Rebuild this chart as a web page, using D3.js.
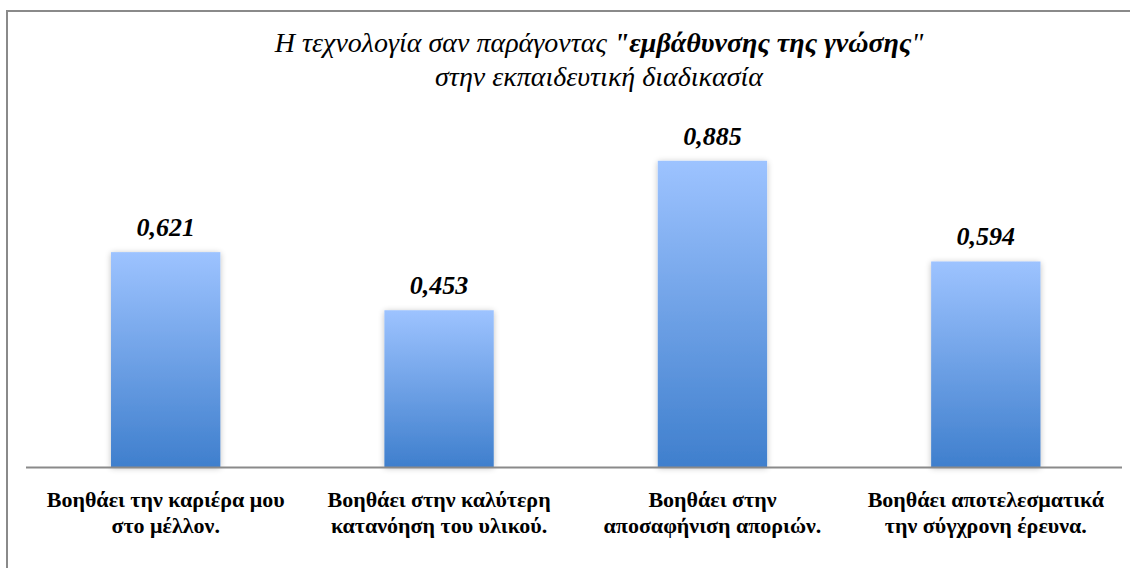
<!DOCTYPE html>
<html><head><meta charset="utf-8">
<script src="https://cdn.jsdelivr.net/npm/d3@7"></script>
</head><body style="margin:0">
<script>
const categories = [
  ["Βοηθάει την καριέρα μου", "στο μέλλον."],
  ["Βοηθάει στην καλύτερη", "κατανόηση του υλικού."],
  ["Βοηθάει στην", "αποσαφήνιση αποριών."],
  ["Βοηθάει αποτελεσματικά", "την σύγχρονη έρευνα."]
];
const values = [0.621, 0.453, 0.885, 0.594];
const valueLabels = ["0,621", "0,453", "0,885", "0,594"];
const titleLine1 = ["Η τεχνολογία σαν παράγοντας ", "\"εμβάθυνσης της γνώσης", "\""];
const titleLine2 = "στην εκπαιδευτική διαδικασία";

const W = 1130, H = 568;
const svg = d3.select("body").append("svg").attr("width", W).attr("height", H).style("display","block");
const serif = '"Liberation Serif", "Times New Roman", Tinos, serif';

const defs = svg.append("defs");
const grad = defs.append("linearGradient").attr("id","barGrad").attr("x1",0).attr("y1",0).attr("x2",0).attr("y2",1);
grad.append("stop").attr("offset","0%").attr("stop-color","#9dc3ff");
grad.append("stop").attr("offset","100%").attr("stop-color","#3f7fcd");
const filt = defs.append("filter").attr("id","shadow").attr("x","-20%").attr("y","-20%").attr("width","140%").attr("height","140%");
filt.append("feGaussianBlur").attr("in","SourceAlpha").attr("stdDeviation",3).attr("result","b");
filt.append("feOffset").attr("in","b").attr("dx",0).attr("dy",1).attr("result","o");
filt.append("feComponentTransfer").attr("in","o").attr("result","s").append("feFuncA").attr("type","linear").attr("slope",0.25);
const m = filt.append("feMerge"); m.append("feMergeNode").attr("in","s"); m.append("feMergeNode").attr("in","SourceGraphic");

// border
svg.append("path").attr("d", `M7,${H} L7,11 L${W},11`).attr("fill","none").attr("stroke","#8a8a8a").attr("stroke-width",2);

const x = d3.scaleBand().domain(d3.range(values.length)).range([29, 1122.5]).padding(0);
const y = d3.scaleLinear().domain([0, 1]).range([467, 121]);
const barW = x.bandwidth() * 0.4;

svg.append("g").selectAll("rect").data(values).join("rect")
  .attr("x", (d,i) => x(i) + (x.bandwidth() - barW)/2)
  .attr("y", d => y(d))
  .attr("width", barW)
  .attr("height", d => y(0) - y(d))
  .attr("fill", "url(#barGrad)")
  .attr("filter", "url(#shadow)");

// axis
const axis = svg.append("g").attr("transform", `translate(0,${y(0)+0.5})`)
  .call(d3.axisBottom(x).tickSize(0).tickFormat(""));
axis.select(".domain").attr("stroke","#8a8a8a").attr("stroke-width",2).attr("d", `M26,0H1122`);

// value labels
svg.append("g").selectAll("text").data(values).join("text")
  .attr("x", (d,i) => x(i) + x.bandwidth()/2)
  .attr("y", d => y(d) - 16)
  .attr("text-anchor","middle")
  .style("font-family", serif).style("font-size", "26px").style("font-weight","bold").style("font-style","italic")
  .attr("fill","#000")
  .text((d,i) => valueLabels[i]);

// category labels
const cl = svg.append("g").selectAll("text").data(categories).join("text")
  .attr("text-anchor","middle")
  .style("font-family", serif).style("font-size", "22px").style("font-weight","bold").attr("fill","#000");
cl.each(function(d,i){
  const t = d3.select(this);
  d.forEach((line, j) => {
    t.append("tspan").attr("x", x(i) + x.bandwidth()/2).attr("y", 507 + j*26).text(line);
  });
});

// title
const t1 = svg.append("text").attr("x", 599).attr("y", 52).attr("text-anchor","middle")
  .style("font-family", serif).style("font-size", "28px").style("font-style","italic").attr("fill","#000");
t1.append("tspan").text(titleLine1[0]);
t1.append("tspan").style("font-weight","bold").text(titleLine1[1]);
t1.append("tspan").text(titleLine1[2]);
svg.append("text").attr("x", 599).attr("y", 86).attr("text-anchor","middle")
  .style("font-family", serif).style("font-size", "28px").style("font-style","italic").attr("fill","#000")
  .text(titleLine2);
</script>
</body></html>
